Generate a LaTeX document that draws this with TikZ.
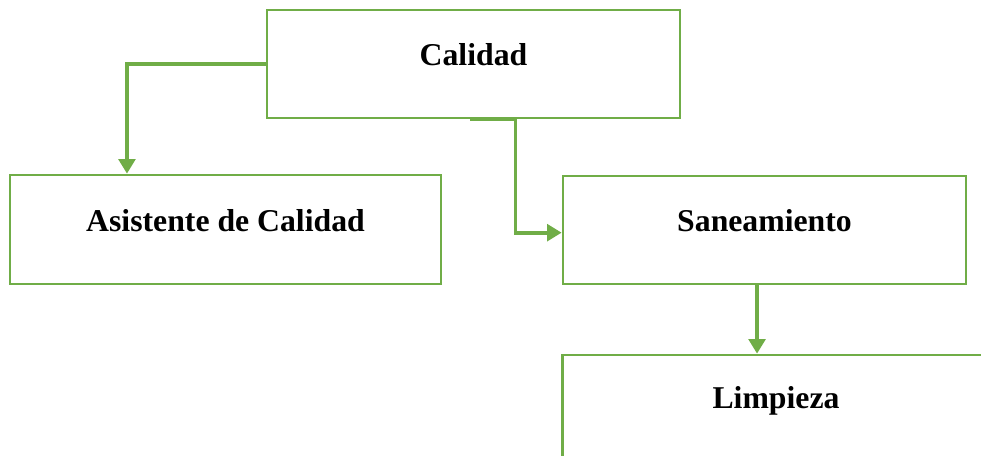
\documentclass[tikz,border=0pt]{standalone}
\usepackage{fontspec}
\setmainfont{Liberation Serif}
\usetikzlibrary{arrows.meta}
\definecolor{verde}{RGB}{112,173,71}

\begin{document}
\begin{tikzpicture}[x=0.75pt, y=-0.75pt,
    box/.style={draw=verde, line width=2pt, fill=white, inner sep=0pt},
    txt/.style={font=\fontsize{23.8}{28}\selectfont\bfseries, inner sep=0pt},
    conn/.style={draw=verde, line width=2.8pt, -{Triangle[length=11pt, width=12.5pt]}}]
    \useasboundingbox (0,0) rectangle (981,455);
    \clip (0,0) rectangle (981,455);
    % boxes
    \node[box, minimum width=309.75pt, minimum height=81pt] (calidad) at (473.5,64) {};
    \node[box, minimum width=323.25pt, minimum height=81.75pt] (asistente) at (225.5,229.5) {};
    \node[box, minimum width=302.25pt, minimum height=81pt] (saneamiento) at (764.5,230) {};
    \node[box, minimum width=320pt, minimum height=81pt] (limpieza) at (776,409) {};
    % texts
    \node[txt] (calidadtxt) at ([yshift=7pt]calidad.center) {Calidad};
    \node[txt] (asistentetxt) at ([yshift=7pt]asistente.center) {Asistente de Calidad};
    \node[txt] (saneamientotxt) at ([yshift=7pt]saneamiento.center) {Saneamiento};
    \node[txt] (limpiezatxt) at ([yshift=6pt]limpieza.center) {Limpieza};

    \draw[conn] (calidad.west) -| ([xshift=-73.9pt]asistente.north);
    \draw[conn] ([xshift=-3pt]calidad.south) -- ++(46,0) |- ([yshift=-2pt]saneamiento.west);
    \draw[conn] ([xshift=-5.6pt]saneamiento.south) -- ([xshift=-5.6pt]saneamiento.south |- limpieza.north);
\end{tikzpicture}
\end{document}
